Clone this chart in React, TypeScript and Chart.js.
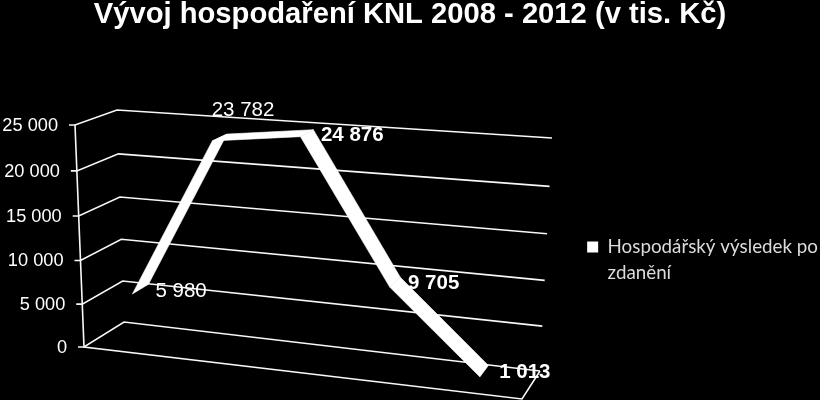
import React, { useEffect, useRef } from "react";
import { Chart, registerables } from "chart.js";

Chart.register(...registerables);

const titleText = "Vývoj hospodaření KNL 2008 - 2012 (v tis. Kč)";
const seriesName = ["Hospodářský výsledek po", "zdanění"];
const years = ["2008", "2009", "2010", "2011", "2012"];
const result = [5980, 23782, 24876, 9705, 1013];

// corners of the fake 3D box, order: bottom-left, bottom-right, top-right, top-left
type Pt = [number, number];
const backWall: Pt[] = [[124, 322], [540, 371], [552, 138], [117, 110]];
const frontWall: Pt[] = [[84, 347], [522, 399], [533, 156], [75, 125]];

// how deep in the box the ribbon sits (0 = front, 1 = back)
const ribbonFront = 0.26;
const ribbonBack = 0.68;

// data label nudge from the ribbon middle
const labelNudge: Pt[] = [[15, 2.5], [-8, -27.5], [14, 2.5], [13, 1.5], [15, 1.5]];
const labelBold = [false, false, true, true, true];

const formatNumber = (value: number) =>
  String(value).replace(/\B(?=(\d{3})+$)/g, " ");

function makeHomography(q: Pt[]) {
  const [[x0, y0], [x1, y1], [x2, y2], [x3, y3]] = q;
  const dx1 = x1 - x2;
  const dx2 = x3 - x2;
  const sx = x0 - x1 + x2 - x3;
  const dy1 = y1 - y2;
  const dy2 = y3 - y2;
  const sy = y0 - y1 + y2 - y3;
  const den = dx1 * dy2 - dx2 * dy1;
  const g = (sx * dy2 - dx2 * sy) / den;
  const h = (dx1 * sy - sx * dy1) / den;
  const a = x1 - x0 + g * x1;
  const b = x3 - x0 + h * x3;
  const d = y1 - y0 + g * y1;
  const e = y3 - y0 + h * y3;
  return (s: number, t: number): Pt => {
    const w = g * s + h * t + 1;
    return [(a * s + b * t + x0) / w, (d * s + e * t + y0) / w];
  };
}

const toBack = makeHomography(backWall);
const toFront = makeHomography(frontWall);

const box3dPlugin = {
  id: "box3d",
  afterLayout: (chart: Chart<"line">) => {
    // legend sits lower and further right than the default spot
    if (!chart.legend) return;
    chart.legend.top += 64;
    chart.legend.bottom += 64;
    chart.legend.left += 8;
    chart.legend.right += 8;
  },
  afterDatasetsDraw: (chart: Chart<"line">) => {
    const { ctx, chartArea } = chart;
    const yScale = chart.scales.y;
    if (!chartArea || !yScale) return;

    const unit = (px: number, py: number): Pt => [
      (px - chartArea.left) / chartArea.width,
      (chartArea.bottom - py) / chartArea.height,
    ];
    const at = (px: number, py: number, depth: number): Pt => {
      const [s, t] = unit(px, py);
      const f = toFront(s, t);
      const b = toBack(s, t);
      return [f[0] + (b[0] - f[0]) * depth, f[1] + (b[1] - f[1]) * depth];
    };

    ctx.save();
    ctx.strokeStyle = "#f8f8f8";
    ctx.lineWidth = 1.6;
    const line = (pts: Pt[]) => {
      ctx.beginPath();
      pts.forEach((p, i) => (i ? ctx.lineTo(p[0], p[1]) : ctx.moveTo(p[0], p[1])));
      ctx.stroke();
    };

    // walls and axis
    ctx.fillStyle = "#fff";
    ctx.font = '18.2px "Liberation Sans"';
    ctx.textAlign = "right";
    ctx.textBaseline = "middle";
    yScale.ticks.forEach((tick) => {
      const t = unit(chartArea.left, yScale.getPixelForValue(tick.value))[1];
      const front = toFront(0, t);
      line([[front[0] - 6, front[1]], front, toBack(0, t), toBack(1, t)]);
      ctx.fillText(String(tick.label), front[0] - 17, front[1] + 1);
    });
    line([toFront(0, 1), toFront(0, 0), toFront(1, 0), toBack(1, 0)]);

    // ribbon
    const points = chart.getDatasetMeta(0).data;
    ctx.fillStyle = "#fff";
    ctx.strokeStyle = "#fff";
    ctx.lineWidth = 0.6;
    ctx.lineJoin = "round";
    for (let i = 0; i < points.length - 1; i++) {
      const p = points[i];
      const n = points[i + 1];
      const quad = [
        at(p.x, p.y, ribbonFront),
        at(p.x, p.y, ribbonBack),
        at(n.x, n.y, ribbonBack),
        at(n.x, n.y, ribbonFront),
      ];
      ctx.beginPath();
      quad.forEach((c, k) => (k ? ctx.lineTo(c[0], c[1]) : ctx.moveTo(c[0], c[1])));
      ctx.closePath();
      ctx.fill();
      ctx.stroke();
    }

    // data labels
    ctx.textAlign = "left";
    points.forEach((p, i) => {
      const mid = at(p.x, p.y, (ribbonFront + ribbonBack) / 2);
      ctx.font = `${labelBold[i] ? "bold " : ""}20.5px "Liberation Sans"`;
      ctx.fillText(
        formatNumber(result[i]),
        mid[0] + labelNudge[i][0],
        mid[1] + labelNudge[i][1]
      );
    });
    ctx.restore();
  },
};

const App: React.FC = () => {
  const chartRef = useRef<HTMLCanvasElement>(null);

  useEffect(() => {
    if (!chartRef.current) return;

    const chart = new Chart(chartRef.current, {
      type: "line",
      data: {
        labels: years,
        datasets: [
          {
            label: "result",
            data: result,
            borderWidth: 0,
            borderColor: "#fff",
            backgroundColor: "#fff",
            pointRadius: 0,
          },
        ],
      },
      plugins: [box3dPlugin],
      options: {
        responsive: true,
        maintainAspectRatio: false,
        animation: false,
        plugins: {
          tooltip: { enabled: false },
          title: {
            display: true,
            text: titleText,
            color: "#fff",
            padding: { top: -3, bottom: 10 },
            font: { family: '"Liberation Sans"', size: 29.2, weight: "bold" },
          },
          legend: {
            position: "right",
            align: "center",
            labels: {
              color: "#dcdcdc",
              boxWidth: 11,
              boxHeight: 11,
              font: { family: "Lato", size: 18.8, lineHeight: 1.4 },
              generateLabels: () => [
                {
                  text: seriesName as unknown as string,
                  fillStyle: "#fff",
                  strokeStyle: "#fff",
                  lineWidth: 0,
                  fontColor: "#dcdcdc",
                  datasetIndex: 0,
                },
              ],
            },
          },
        },
        scales: {
          x: { display: false, offset: true },
          y: {
            display: false,
            min: 0,
            max: 25000,
            ticks: {
              stepSize: 5000,
              callback: (value) => formatNumber(Number(value)),
            },
          },
        },
      },
    });

    return () => chart.destroy();
  }, []);

  return (
    <div style={{ position: "fixed", left: 0, top: 0, width: 820, height: 400, background: "#000" }}>
      <canvas ref={chartRef} />
    </div>
  );
};

export default App;
